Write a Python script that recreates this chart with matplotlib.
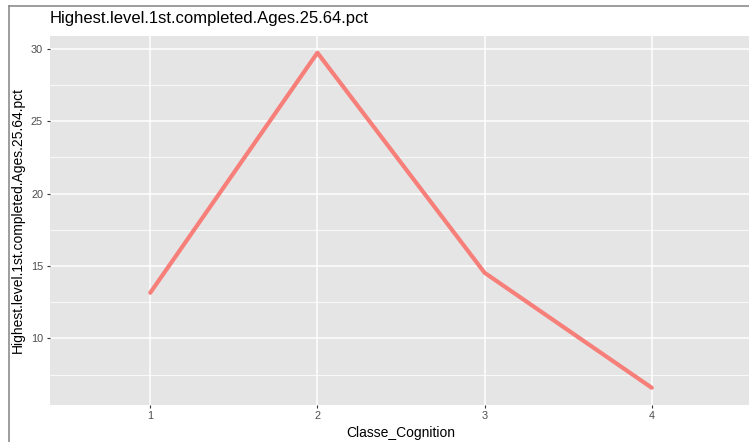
import numpy as np
import matplotlib
matplotlib.use("Agg")
import matplotlib.pyplot as plt
from matplotlib.lines import Line2D

# values
classes = [1, 2, 3, 4]
pct_values = [13.15, 29.72, 14.53, 6.59]
y_ticks = [10, 15, 20, 25, 30]
title_text = "Highest.level.1st.completed.Ages.25.64.pct"

plt.rcParams['font.family'] = ['Liberation Sans', 'DejaVu Sans']

W, H = 749, 442
fig = plt.figure(figsize=(W / 100, H / 100), dpi=100)

# panel in pixels: left 50, right 752 (cropped), top 36, bottom 404.5
left, right, top, bottom = 50, 752, 36, 404.5
ax = fig.add_axes([left / W, (H - bottom) / H, (right - left) / W, (bottom - top) / H])
ax.set_facecolor("#E5E5E5")
for s in ax.spines.values():
    s.set_visible(False)

# ggplot-style expansion
lo, hi = min(pct_values), max(pct_values)
pad = (hi - lo) * 0.05
ax.set_ylim(lo - pad, hi + pad)
ax.set_xlim(0.4, 4.6)

ax.set_xticks(classes)
ax.set_xticklabels([str(c) for c in classes])
ax.set_yticks(y_ticks)
ax.set_yticks([7.5, 12.5, 17.5, 22.5, 27.5], minor=True)
ax.grid(which="major", color="white", linewidth=1.1)
ax.grid(which="minor", axis="y", color="white", linewidth=0.55)
ax.set_axisbelow(True)
ax.tick_params(which="major", length=2.5, width=0.8, color="#333333",
               labelsize=7.8, labelcolor="#4D4D4D", pad=2.5)
ax.tick_params(which="minor", length=0)

ax.plot(classes, pct_values, color="#F67F7A", linewidth=3, solid_capstyle="round",
        solid_joinstyle="round", zorder=3)

ax.set_xlabel("Classe_Cognition", fontsize=10, labelpad=3)
ax.set_ylabel(title_text, fontsize=10, labelpad=4)
fig.text(left / W, 1 - 19 / H, title_text, fontsize=12, ha="left", va="center")

# outer frame from the screenshot
fig.add_artist(Line2D([9 / W, 9 / W], [0, 1 - 6 / H], transform=fig.transFigure,
                      color="#8C8C8C", linewidth=1.2))
fig.add_artist(Line2D([9 / W, 1], [1 - 6 / H, 1 - 6 / H], transform=fig.transFigure,
                      color="#8C8C8C", linewidth=1.2))

fig.savefig("out.png", dpi=100)
